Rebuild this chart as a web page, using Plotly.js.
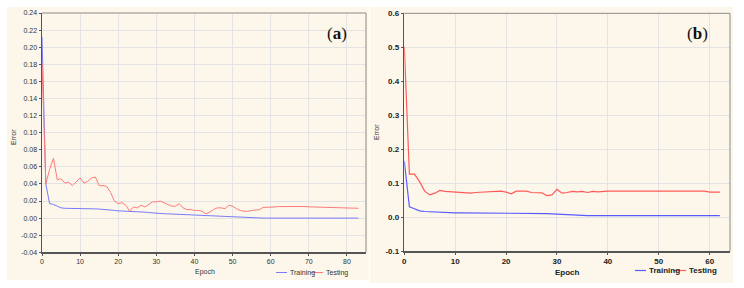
<!DOCTYPE html>
<html>
<head>
<meta charset="utf-8">
<script src="https://cdn.plot.ly/plotly-3.0.1.min.js"></script>
<style>html,body{margin:0;padding:0;background:#fff;}#chart{width:744px;height:288px;}</style>
</head>
<body>
<div id="chart"></div>
<script>
// ---- Panel (a) data ----
const epochsA = [];
for (let i = 0; i <= 83; i++) epochsA.push(i);
const trainA = [0.212,0.040,0.017,0.016,0.014,0.012,0.0115,0.0115,0.0115,0.0115,
  0.0115,0.0113,0.0112,0.011,0.0108,0.0106,0.0104,0.0102,0.010,0.009,
  0.0085,0.0084,0.0083,0.0081,0.0079,0.0076,0.0073,0.007,0.0065,0.006,
  0.0055,0.0053,0.0051,0.005,0.0048,0.0046,0.0044,0.0042,0.004,0.0038,
  0.0036,0.0034,0.0032,0.003,0.0028,0.0026,0.0024,0.0022,0.002,0.0017,
  0.0013,0.0008,0.0004,0.0002,0.0001,0.0,0.0,0.0,0.0,0.0,
  0.0,0.0,0.0,0.0,0.0,0.0,0.0,0.0,0.0,0.0,
  0.0,0.0,0.0,0.0,0.0,0.0,0.0,0.0,0.0,0.0,
  0.0,0.0,0.0,0.0];
const testA = [0.181,0.040,0.057,0.070,0.045,0.046,0.041,0.042,0.038,0.042,
  0.047,0.041,0.043,0.047,0.048,0.038,0.038,0.037,0.030,0.020,
  0.017,0.018,0.015,0.008,0.013,0.012,0.015,0.013,0.016,0.019,
  0.019,0.020,0.018,0.016,0.014,0.014,0.017,0.012,0.010,0.010,
  0.009,0.009,0.008,0.005,0.007,0.010,0.012,0.012,0.011,0.015,
  0.014,0.011,0.009,0.008,0.008,0.009,0.0095,0.0098,0.0125,0.0125,
  0.0127,0.013,0.0135,0.0136,0.0136,0.0136,0.0136,0.0136,0.0136,0.0136,
  0.0132,0.0131,0.013,0.0128,0.0126,0.0125,0.0125,0.0125,0.0125,0.0124,
  0.0122,0.012,0.0118,0.0115];

// ---- Panel (b) data ----
const epochsB = [];
for (let i = 0; i <= 62; i++) epochsB.push(i);
const trainB = [0.165,0.031,0.025,0.019,0.017,0.016,0.016,0.016,0.013,0.013,
  0.013,0.013,0.013,0.013,0.013,0.013,0.013,0.013,0.013,0.013,
  0.013,0.013,0.013,0.013,0.013,0.012,0.012,0.012,0.011,0.010,
  0.009,0.008,0.007,0.006,0.005,0.005,0.005,0.005,0.005,0.005,
  0.005,0.005,0.005,0.005,0.005,0.005,0.005,0.005,0.005,0.005,
  0.005,0.005,0.005,0.005,0.005,0.005,0.005,0.005,0.005,0.005,
  0.005,0.005,0.005];
const testB = [0.502,0.127,0.127,0.105,0.077,0.066,0.071,0.079,0.076,0.075,
  0.075,0.075,0.074,0.071,0.073,0.074,0.073,0.075,0.077,0.077,
  0.074,0.069,0.077,0.078,0.077,0.073,0.073,0.072,0.064,0.066,
  0.082,0.071,0.073,0.076,0.075,0.076,0.073,0.076,0.075,0.077,
  0.077,0.077,0.077,0.077,0.077,0.077,0.077,0.077,0.077,0.077,
  0.077,0.075,0.077,0.077,0.077,0.077,0.077,0.077,0.077,0.077,
  0.074,0.074,0.074];

const yTicksA = [-0.04,-0.02,0.00,0.02,0.04,0.06,0.08,0.10,0.12,0.14,0.16,0.18,0.20,0.22,0.24];
const yTickTextA = ["-0.04","-0.02","0.00","0.02","0.04","0.06","0.08","0.10","0.12","0.14","0.16","0.18","0.20","0.22","0.24"];
const yTicksB = [-0.1,0.0,0.1,0.2,0.3,0.4,0.5,0.6];
const yTickTextB = ["-0.1","0.0","0.1","0.2","0.3","0.4","0.5","0.6"];
const legendNames = ["Training","Testing"];

const W = 744, H = 288;
const px = v => v / W;
const py = v => 1 - v / H;

const blueA = "#7a7af8", redA = "#ff7a7a";
const blueB = "#5a5aff", redB = "#ff5a5a";

const traces = [
  {x: epochsA, y: trainA, xaxis: "x", yaxis: "y", mode: "lines", line: {color: blueA, width: 1}, name: legendNames[0], showlegend: false},
  {x: epochsA, y: testA, xaxis: "x", yaxis: "y", mode: "lines", line: {color: redA, width: 1}, name: legendNames[1], showlegend: false},
  {x: epochsB, y: trainB, xaxis: "x2", yaxis: "y2", mode: "lines", line: {color: blueB, width: 1.2}, name: legendNames[0], showlegend: false},
  {x: epochsB, y: testB, xaxis: "x2", yaxis: "y2", mode: "lines", line: {color: redB, width: 1.2}, name: legendNames[1], showlegend: false}
];

const tickFontA = {family: "Liberation Sans, Arial, sans-serif", size: 7, color: "#333"};
const tickFontB = {family: "Liberation Sans, Arial, sans-serif", size: 8, color: "#222", weight: "bold"};

const axBase = {
  showline: true, linecolor: "#555", linewidth: 1.5,
  showgrid: true, gridcolor: "#e3e3e3", gridwidth: 1,
  zeroline: false, ticks: "outside", ticklen: 2, tickcolor: "#555",
  fixedrange: true
};

const layout = {
  width: W, height: H,
  margin: {l: 0, r: 0, t: 0, b: 0},
  paper_bgcolor: "#ffffff",
  plot_bgcolor: "#ffffff",
  showlegend: false,
  xaxis: Object.assign({}, axBase, {domain: [px(42), px(366)], range: [0, 85], tickvals: [0,10,20,30,40,50,60,70,80], tickfont: tickFontA, anchor: "y"}),
  yaxis: Object.assign({}, axBase, {domain: [py(252.3), py(13)], range: [-0.04, 0.24], tickvals: yTicksA, ticktext: yTickTextA, tickfont: tickFontA, anchor: "x"}),
  xaxis2: Object.assign({}, axBase, {domain: [px(404.3), px(730)], range: [0, 64], tickvals: [0,10,20,30,40,50,60], tickfont: tickFontB, anchor: "y2"}),
  yaxis2: Object.assign({}, axBase, {domain: [py(251.3), py(13.3)], range: [-0.1, 0.6], tickvals: yTicksB, ticktext: yTickTextB, tickfont: tickFontB, anchor: "x2"}),
  shapes: [
    {type: "rect", xref: "paper", yref: "paper", x0: px(7), x1: px(369), y0: py(280), y1: py(7), fillcolor: "#fcf7ea", line: {width: 0}, layer: "below"},
    {type: "rect", xref: "paper", yref: "paper", x0: px(370), x1: px(733), y0: py(283), y1: py(7), fillcolor: "#fcf7ea", line: {width: 0}, layer: "below"},
    // top / right frame lines
    {type: "line", xref: "x domain", yref: "y domain", x0: 0, x1: 1, y0: 1, y1: 1, line: {color: "#8a8a8a", width: 1}},
    {type: "line", xref: "x domain", yref: "y domain", x0: 1, x1: 1, y0: 0, y1: 1, line: {color: "#8a8a8a", width: 1}},
    {type: "line", xref: "x2 domain", yref: "y2 domain", x0: 0, x1: 1, y0: 1, y1: 1, line: {color: "#8a8a8a", width: 1}},
    {type: "line", xref: "x2 domain", yref: "y2 domain", x0: 1, x1: 1, y0: 0, y1: 1, line: {color: "#8a8a8a", width: 1}},
    // legend samples (a)
    {type: "line", xref: "paper", yref: "paper", x0: px(276), x1: px(287), y0: py(272.5), y1: py(272.5), line: {color: blueA, width: 1}},
    {type: "line", xref: "paper", yref: "paper", x0: px(311), x1: px(323), y0: py(272.5), y1: py(272.5), line: {color: redA, width: 1}},
    // legend samples (b)
    {type: "line", xref: "paper", yref: "paper", x0: px(635), x1: px(646), y0: py(270.5), y1: py(270.5), line: {color: blueB, width: 1.2}},
    {type: "line", xref: "paper", yref: "paper", x0: px(673), x1: px(686), y0: py(270.5), y1: py(270.5), line: {color: redB, width: 1.2}}
  ],
  annotations: [
    {xref: "paper", yref: "paper", x: px(205), y: py(271.5), text: "Epoch", showarrow: false, xanchor: "center", yanchor: "middle", font: {family: "Liberation Sans, Arial, sans-serif", size: 7, color: "#333"}},
    {xref: "paper", yref: "paper", x: px(13), y: py(137), text: "Error", textangle: -90, showarrow: false, xanchor: "center", yanchor: "middle", font: {family: "Liberation Sans, Arial, sans-serif", size: 7, color: "#333"}},
    {xref: "paper", yref: "paper", x: px(287.5), y: py(272.5), text: legendNames[0], showarrow: false, xanchor: "left", yanchor: "middle", font: {family: "Liberation Sans, Arial, sans-serif", size: 7, color: "#333"}},
    {xref: "paper", yref: "paper", x: px(323.5), y: py(272.5), text: legendNames[1], showarrow: false, xanchor: "left", yanchor: "middle", font: {family: "Liberation Sans, Arial, sans-serif", size: 7, color: "#333"}},
    {xref: "paper", yref: "paper", x: px(567), y: py(272.5), text: "Epoch", showarrow: false, xanchor: "center", yanchor: "middle", font: {family: "Liberation Sans, Arial, sans-serif", size: 8, color: "#222", weight: "bold"}},
    {xref: "paper", yref: "paper", x: px(377), y: py(132), text: "Error", textangle: -90, showarrow: false, xanchor: "center", yanchor: "middle", font: {family: "Liberation Sans, Arial, sans-serif", size: 7, color: "#333"}},
    {xref: "paper", yref: "paper", x: px(646.5), y: py(270.5), text: legendNames[0], showarrow: false, xanchor: "left", yanchor: "middle", font: {family: "Liberation Sans, Arial, sans-serif", size: 8, color: "#222", weight: "bold"}},
    {xref: "paper", yref: "paper", x: px(686.5), y: py(270.5), text: legendNames[1], showarrow: false, xanchor: "left", yanchor: "middle", font: {family: "Liberation Sans, Arial, sans-serif", size: 8, color: "#222", weight: "bold"}},
    {xref: "paper", yref: "paper", x: px(337), y: py(33), text: "(<b>a</b>)", showarrow: false, xanchor: "center", yanchor: "middle", font: {family: "Liberation Serif, DejaVu Serif, serif", size: 17, color: "#111"}},
    {xref: "paper", yref: "paper", x: px(697), y: py(33), text: "(<b>b</b>)", showarrow: false, xanchor: "center", yanchor: "middle", font: {family: "Liberation Serif, DejaVu Serif, serif", size: 17, color: "#111"}}
  ]
};

Plotly.newPlot("chart", traces, layout, {staticPlot: true, displayModeBar: false});
</script>
</body>
</html>
